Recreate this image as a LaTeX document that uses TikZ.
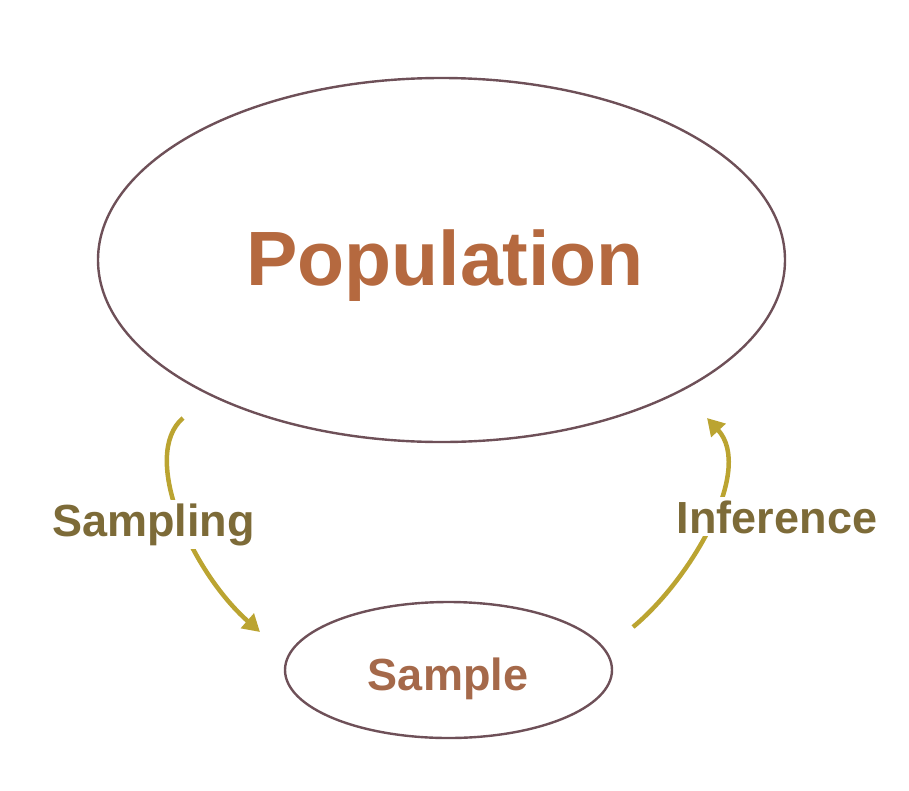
\documentclass[tikz,border=0pt]{standalone}
\usepackage{fontspec}
\setmainfont{Liberation Sans}
\usetikzlibrary{shapes.geometric,arrows.meta}
\definecolor{arrowcol}{HTML}{BBA431}
\definecolor{lblcol}{HTML}{7D6B38}
\definecolor{popcol}{HTML}{B5693F}
\definecolor{samcol}{HTML}{A5694A}
\definecolor{ellcol}{HTML}{6E5058}
\tikzset{
  ellbox/.style={ellipse, draw=ellcol, line width=2.4pt, inner sep=0pt},
  poptext/.style={text=popcol, font=\fontsize{77}{80}\selectfont\bfseries, inner sep=0pt},
  samtext/.style={text=samcol, font=\fontsize{45}{50}\selectfont\bfseries, inner sep=0pt},
  arrlbl/.style={text=lblcol, font=\fontsize{45}{50}\selectfont\bfseries, fill=white, inner sep=3pt},
  flow/.style={draw=arrowcol, line width=4.5pt, -{Triangle[length=17pt,width=19pt]}}
}
\begin{document}
\begin{tikzpicture}[x=1pt,y=-1pt]
\useasboundingbox (0,0) rectangle (909,790);
\node[ellbox, minimum width=687pt, minimum height=364pt] (pop) at (441.5,260) {};
\node[ellbox, minimum width=327pt, minimum height=136pt] (sam) at (448.5,670) {};
\node[poptext, anchor=base] (poplbl) at (445,285) {Population};
\node[samtext, anchor=base] (samlbl) at (448,690) {Sample};
\coordinate (s1) at (183,418);
\coordinate (s2) at (260,632);
\coordinate (i1) at (633,627);
\coordinate (i2) at (707,418);
\draw[flow] (s1) .. controls (140,455) and (190,570) .. (s2);
\draw[flow] (i1) .. controls (690,580) and (755,470) .. (i2);
\node[arrlbl, anchor=base] (samp) at (153.5,536) {Sampling};
\node[arrlbl, anchor=base] (inf) at (777,533) {Inference};
\end{tikzpicture}
\end{document}
